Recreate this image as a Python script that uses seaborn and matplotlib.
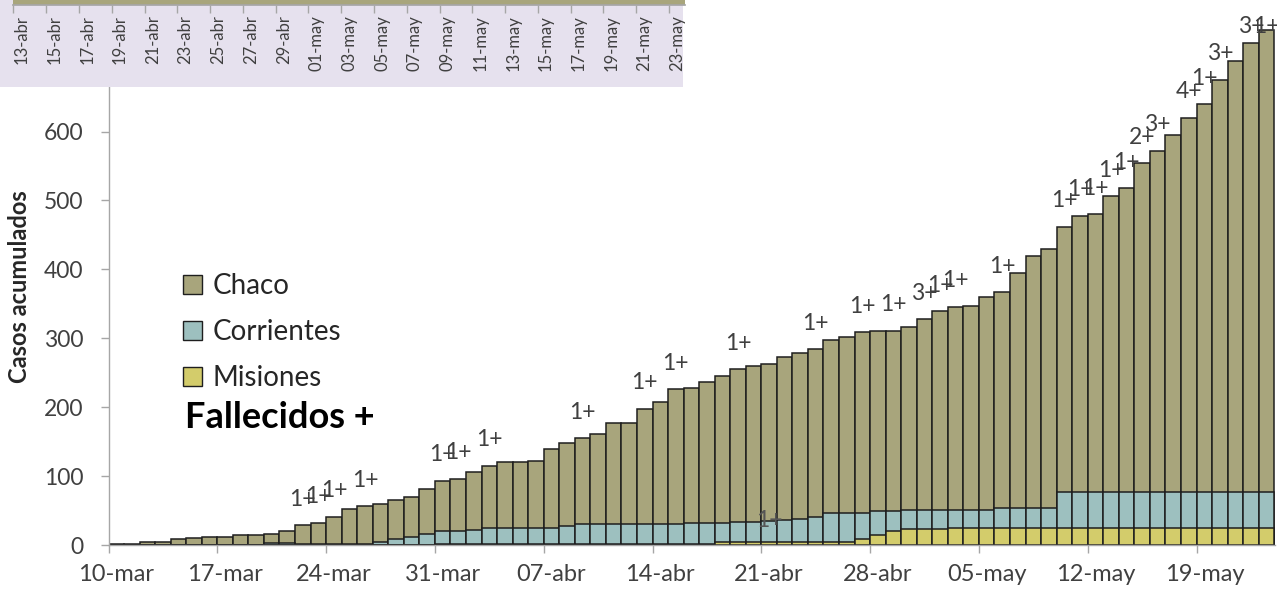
import numpy as np
import pandas as pd
import matplotlib
matplotlib.use('Agg')
import matplotlib.pyplot as plt
from matplotlib.patches import Patch
import seaborn as sns

# Daily cumulative cases, 10-mar .. 23-may
days = pd.date_range('2020-03-10', '2020-05-23', freq='D')

chaco = [2, 2, 5, 5, 8, 10, 12, 12, 14, 14,
         13, 18, 28, 31, 40, 51, 55, 54, 57, 57,
         65, 72, 75, 84, 91, 96, 96, 98, 115, 121,
         125, 131, 147, 147, 168, 178, 196, 196, 205, 214,
         221, 226, 227, 237, 241, 244, 250, 255, 262, 262,
         262, 266, 277, 288, 295, 296, 309, 313, 341, 366,
         376, 385, 401, 403, 429, 441, 477, 495, 518, 543,
         563, 598, 625, 652, 670]
corrientes = [0, 0, 0, 0, 0, 0, 0, 0, 0, 0,
              3, 3, 1, 1, 1, 1, 1, 5, 9, 12,
              16, 20, 20, 21, 23, 23, 23, 23, 22, 25,
              28, 28, 28, 28, 28, 28, 28, 30, 30, 28,
              30, 30, 31, 32, 34, 36, 43, 43, 39, 34,
              28, 28, 28, 28, 27, 27, 27, 30, 30, 30,
              30, 53, 53, 53, 53, 53, 53, 53, 53, 53,
              53, 53, 53, 53, 53]
misiones = [0, 0, 0, 0, 0, 0, 0, 0, 0, 0,
            0, 0, 0, 0, 0, 0, 0, 0, 0, 0,
            0, 1, 1, 1, 1, 1, 1, 1, 2, 2,
            2, 2, 2, 2, 2, 2, 2, 2, 2, 4,
            4, 4, 4, 4, 4, 4, 4, 4, 8, 15,
            21, 23, 23, 23, 24, 24, 24, 24, 24, 24,
            24, 24, 24, 24, 24, 24, 24, 24, 24, 24,
            24, 24, 24, 24, 24]

# deaths ("N+") shown above the bars
death_day = [12, 13, 14, 16, 21, 22, 24, 30, 34, 36, 40, 45, 48, 50, 52,
             53, 54, 57, 61, 62, 63, 64, 65, 66, 67, 69, 70, 71, 73, 74]
death_n = [1, 1, 1, 1, 1, 1, 1, 1, 1, 1, 1, 1, 1, 1, 3,
           1, 1, 1, 1, 1, 1, 1, 1, 2, 3, 4, 1, 3, 3, 1]
corr_death_day = [42]
corr_death_n = [1]

xtick_labels = ['10-mar', '17-mar', '24-mar', '31-mar', '07-abr', '14-abr',
                '21-abr', '28-abr', '05-may', '12-may', '19-may']
inset_labels = ['13-abr', '15-abr', '17-abr', '19-abr', '21-abr', '23-abr',
                '25-abr', '27-abr', '29-abr', '01-may', '03-may', '05-may',
                '07-may', '09-may', '11-may', '13-may', '15-may', '17-may',
                '19-may', '21-may', '23-may']

CHACO = '#A8A57C'
CORR = '#9DC0BF'
MIS = '#D3CC6B'
LAV = '#E6E1EE'
EDGE = '#1e1e1e'
AXC = '#A6A6A6'
TXT = '#404040'

sns.set_theme(style='white')
plt.rcParams['font.family'] = ['Lato', 'DejaVu Sans']

df = pd.DataFrame({'dia': np.arange(len(days)), 'chaco': chaco,
                   'corrientes': corrientes, 'misiones': misiones})
df['top_corr'] = df['misiones'] + df['corrientes']
df['total'] = df['top_corr'] + df['chaco']

W, H = 1277, 590
fig = plt.figure(figsize=(W / 100, H / 100), dpi=100)
ax = fig.add_axes([108.5 / W, 45 / H, (1275 - 108.5) / W, 545 / H])

# stacked bars: draw the cumulative heights over each other
for col, colr in [('total', CHACO), ('top_corr', CORR), ('misiones', MIS)]:
    sns.barplot(data=df, x='dia', y=col, color=colr, width=1, saturation=1,
                edgecolor=EDGE, linewidth=1.1, errorbar=None, ax=ax)

ax.set_xlim(-0.5, 74.55)
ax.set_ylim(0, 791)
ax.set_xlabel('')
ax.set_ylabel('')

ax.set_xticks(np.arange(-0.5, 70, 7))
ax.set_xticklabels([''] * len(np.arange(-0.5, 70, 7)))
ax.set_xticks(np.arange(0, 71, 7), minor=True)
ax.set_xticklabels(xtick_labels, minor=True)
ax.tick_params(axis='x', which='major', bottom=True, length=6, width=1, color=AXC)
ax.tick_params(axis='x', which='minor', bottom=True, length=0, pad=14,
               labelsize=17, labelcolor=TXT)
ax.set_yticks(range(0, 800, 100))
ax.tick_params(axis='y', left=True, length=6, width=1, color=AXC, pad=12,
               labelsize=16.5, labelcolor=TXT)
for s in ['top', 'right']:
    ax.spines[s].set_visible(False)
for s in ['left', 'bottom']:
    ax.spines[s].set_color(AXC)
    ax.spines[s].set_linewidth(1)

for d, n in zip(death_day, death_n):
    ax.annotate(f'{n}+', xy=(d, min(df['total'][d], 715)), xytext=(0, 26),
                textcoords='offset pixels', ha='center', va='center',
                fontsize=16.5, color=TXT, zorder=5, annotation_clip=False)
for d, n in zip(corr_death_day, corr_death_n):
    ax.annotate(f'{n}+', xy=(d, df['top_corr'][d]), xytext=(0, 0),
                textcoords='offset pixels', ha='center', va='center',
                fontsize=16.5, color='#555555', zorder=5)

handles = [Patch(facecolor=CHACO, edgecolor=EDGE, label='Chaco'),
           Patch(facecolor=CORR, edgecolor=EDGE, label='Corrientes'),
           Patch(facecolor=MIS, edgecolor=EDGE, label='Misiones')]
fig.legend(handles=handles, loc='upper left', bbox_to_anchor=(183 / W, 1 - 273 / H),
           frameon=False, fontsize=20, handlelength=0.7, handleheight=0.7,
           handletextpad=0.35, labelspacing=0.72, borderpad=0, borderaxespad=0,
           labelcolor='#262626')
fig.text(185 / W, 1 - 417 / H, 'Fallecidos +', fontsize=26, weight='bold',
         ha='left', va='center', color='black')
fig.text(20 / W, 1 - 287 / H, 'Casos acumulados', rotation=90, fontsize=17,
         weight='bold', ha='center', va='center', color='#262626')

# cropped piece of another chart pasted at the top left
bg = fig.add_axes([0, 1 - 87 / H, 683 / W, 87 / H], zorder=10)
bg.set_facecolor(LAV)
bg.set_xticks([])
bg.set_yticks([])
for s in bg.spines.values():
    s.set_visible(False)

sub = df.iloc[34:].reset_index(drop=True)
sub['dia'] = np.arange(len(sub))
inner = fig.add_axes([13.4 / W, 1 - 4.5 / H, 672 / W, 4.5 / H], zorder=11)
inner.set_facecolor('none')
sns.barplot(data=sub, x='dia', y='total', color=CHACO, width=1, saturation=1,
            linewidth=0, errorbar=None, ax=inner)
inner.set_xlim(-0.5, 40.5)
inner.set_ylim(0, 1)
inner.set_xlabel('')
inner.set_ylabel('')
inner.set_yticks([])
inner.set_xticks(np.arange(-0.5, 40, 2))
inner.set_xticklabels([''] * len(np.arange(-0.5, 40, 2)))
inner.set_xticks(np.arange(0, 41, 2), minor=True)
inner.set_xticklabels(inset_labels, minor=True, rotation=90)
inner.tick_params(axis='x', which='major', bottom=True, length=6, width=1, color=AXC)
inner.tick_params(axis='x', which='minor', bottom=True, length=0, pad=7.5,
                  labelsize=12, labelcolor=TXT)
for s in ['top', 'right', 'left']:
    inner.spines[s].set_visible(False)
inner.spines['bottom'].set_color(AXC)

fig.savefig('out.png', dpi=100)
